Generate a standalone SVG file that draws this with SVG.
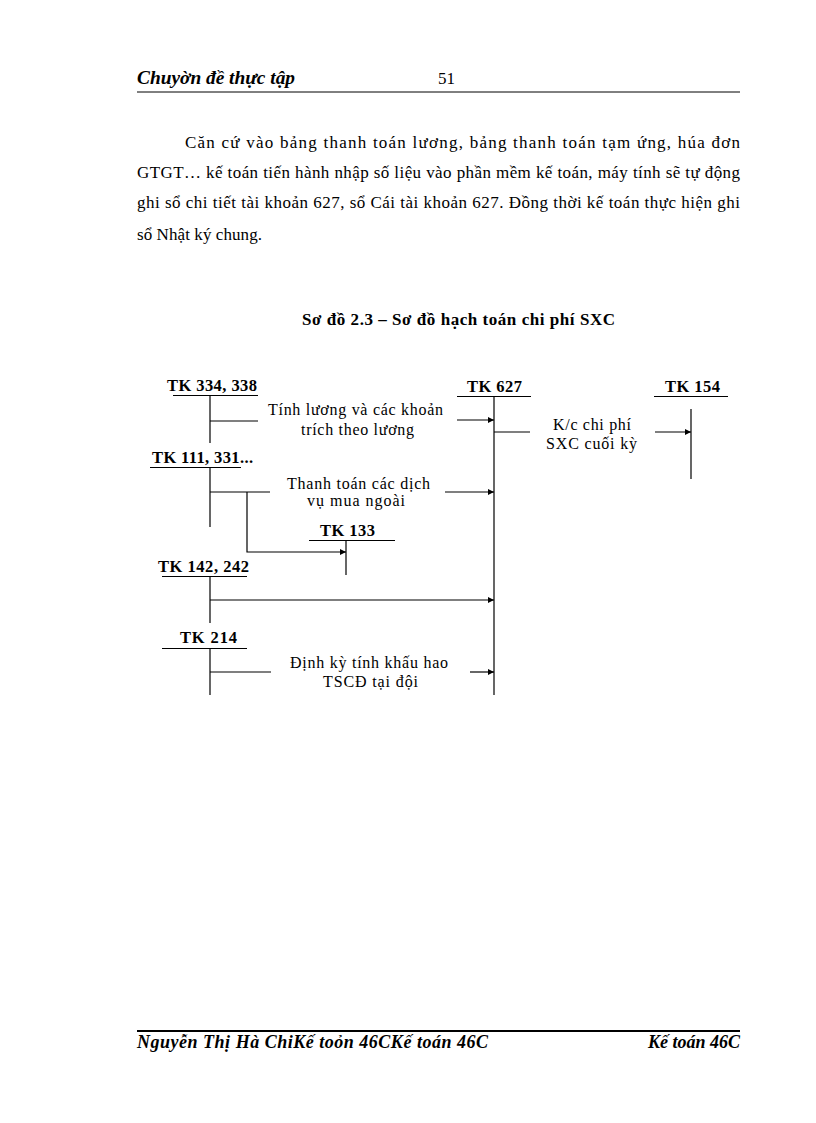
<svg xmlns="http://www.w3.org/2000/svg" width="816" height="1123" viewBox="0 0 816 1123">
<style>
.hdr{font-family:"Liberation Serif",serif;font-weight:bold;font-style:italic;font-size:18px;fill:#000}
.body{font-family:"Liberation Serif",serif;font-size:17px;fill:#000}
.title{font-family:"Liberation Serif",serif;font-weight:bold;font-size:17px;fill:#000}
.tk{font-family:"Liberation Serif",serif;font-weight:bold;font-size:16.5px;fill:#000}
.lbl{font-family:"Liberation Serif",serif;font-size:16px;fill:#000}
.ln{stroke:#000;stroke-width:1.2;fill:none}
.ul{stroke:#000;stroke-width:1;fill:none}
</style>
<defs>
<marker id="arr" viewBox="0 0 10 10" refX="10" refY="5" markerWidth="8" markerHeight="6" markerUnits="userSpaceOnUse" orient="auto">
<path d="M0,0 L10,5 L0,10 Z" fill="#000"/>
</marker>
</defs>
<rect width="816" height="1123" fill="#fff"/>

<g id="header">
<text class="hdr" x="137" y="84" textLength="158" lengthAdjust="spacingAndGlyphs">Chuyờn đề thực tập</text>
<text class="body" x="438" y="84">51</text>
<line x1="137" y1="92" x2="740" y2="92" stroke="#000" stroke-width="1"/>
</g>

<g id="paragraph">
<text class="body" x="185" y="148" textLength="555" lengthAdjust="spacing">Căn cứ vào bảng thanh toán lương, bảng thanh toán tạm ứng, húa đơn</text>
<text class="body" x="137" y="178" textLength="603" lengthAdjust="spacing">GTGT…  kế toán tiến hành nhập  số liệu vào phần mềm kế toán, máy tính sẽ tự động</text>
<text class="body" x="137" y="208" textLength="603" lengthAdjust="spacing">ghi  sổ chi tiết tài khoản  627, sổ Cái tài khoản  627. Đồng thời kế toán thực hiện ghi</text>
<text class="body" x="137" y="240" textLength="125" lengthAdjust="spacing">sổ Nhật ký chung.</text>
</g>

<g id="title">
<text class="title" x="302" y="325" textLength="313" lengthAdjust="spacing">Sơ đồ 2.3 – Sơ đồ hạch toán chi phí SXC</text>
</g>

<g id="tk334">
<text class="tk" x="167" y="391" textLength="90" lengthAdjust="spacing">TK 334, 338</text>
<line class="ul" x1="173" y1="395.5" x2="258" y2="395.5"/>
<line class="ln" x1="210" y1="395" x2="210" y2="443"/>
</g>

<g id="tk627">
<text class="tk" x="467" y="392" textLength="55" lengthAdjust="spacing">TK 627</text>
<line class="ul" x1="457" y1="396.5" x2="531" y2="396.5"/>
<line class="ln" x1="494" y1="396" x2="494" y2="695"/>
</g>

<g id="tk154">
<text class="tk" x="665" y="392" textLength="55" lengthAdjust="spacing">TK 154</text>
<line class="ul" x1="654" y1="396.5" x2="728" y2="396.5"/>
<line class="ln" x1="691" y1="409" x2="691" y2="479"/>
</g>

<g id="tk111">
<text class="tk" x="152" y="463" textLength="101" lengthAdjust="spacing">TK 111, 331...</text>
<line class="ul" x1="150" y1="467.5" x2="241" y2="467.5"/>
<line class="ln" x1="210" y1="467" x2="210" y2="527"/>
</g>

<g id="tk133">
<text class="tk" x="320" y="536" textLength="55" lengthAdjust="spacing">TK 133</text>
<line class="ul" x1="309" y1="540.5" x2="395" y2="540.5"/>
<line class="ln" x1="346" y1="540" x2="346" y2="575"/>
</g>

<g id="tk142">
<text class="tk" x="158" y="572" textLength="91" lengthAdjust="spacing">TK 142, 242</text>
<line class="ul" x1="162" y1="576.5" x2="247" y2="576.5"/>
<line class="ln" x1="210" y1="576" x2="210" y2="623"/>
</g>

<g id="tk214">
<text class="tk" x="180" y="643" textLength="57" lengthAdjust="spacing">TK 214</text>
<line class="ul" x1="162" y1="648.5" x2="247" y2="648.5"/>
<line class="ln" x1="210" y1="648" x2="210" y2="695"/>
</g>

<g id="connectors">
<line class="ln" x1="210" y1="421" x2="258" y2="421"/>
<line class="ln" x1="457" y1="420" x2="494" y2="420" marker-end="url(#arr)"/>
<line class="ln" x1="494" y1="432" x2="530" y2="432"/>
<line class="ln" x1="655" y1="432" x2="691" y2="432" marker-end="url(#arr)"/>
<line class="ln" x1="210" y1="492" x2="270" y2="492"/>
<line class="ln" x1="445" y1="492" x2="494" y2="492" marker-end="url(#arr)"/>
<polyline class="ln" points="247,492 247,552 346,552" marker-end="url(#arr)"/>
<line class="ln" x1="210" y1="600" x2="494" y2="600" marker-end="url(#arr)"/>
<line class="ln" x1="210" y1="672" x2="271" y2="672"/>
<line class="ln" x1="470" y1="672" x2="494" y2="672" marker-end="url(#arr)"/>
</g>

<g id="labels">
<text class="lbl" x="268" y="415" textLength="175" lengthAdjust="spacing">Tính lương và các khoản</text>
<text class="lbl" x="301" y="435" textLength="113" lengthAdjust="spacing">trích theo lương</text>
<text class="lbl" x="287" y="489" textLength="143" lengthAdjust="spacing">Thanh  toán các dịch</text>
<text class="lbl" x="307" y="506" textLength="98" lengthAdjust="spacing">vụ mua ngoài</text>
<text class="lbl" x="553" y="430" textLength="78" lengthAdjust="spacing">K/c chi phí</text>
<text class="lbl" x="546" y="449" textLength="91" lengthAdjust="spacing">SXC  cuối kỳ</text>
<text class="lbl" x="290" y="668" textLength="158" lengthAdjust="spacing">Định kỳ tính khấu hao</text>
<text class="lbl" x="323" y="687" textLength="95" lengthAdjust="spacing">TSCĐ  tại đội</text>
</g>

<g id="footer">
<line x1="137" y1="1031" x2="740" y2="1031" stroke="#000" stroke-width="2"/>
<text class="hdr" x="137" y="1048" textLength="351" lengthAdjust="spacing">Nguyễn Thị Hà ChiKế toỏn 46CKế toán 46C</text>
<text class="hdr" x="740" y="1048" text-anchor="end">Kế toán 46C</text>
</g>
</svg>
